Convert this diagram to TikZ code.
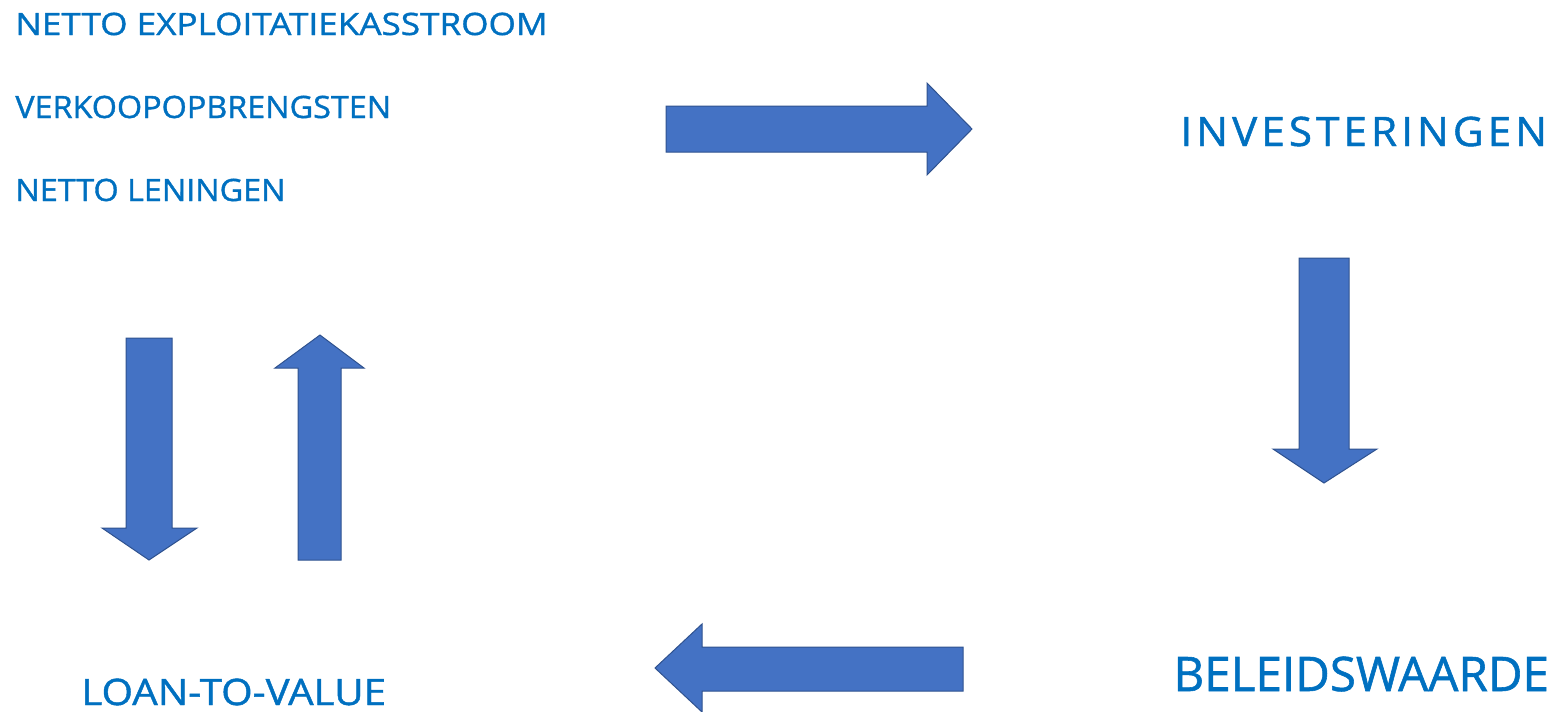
\documentclass[tikz,border=0pt]{standalone}
\usepackage{fontspec}
\setmainfont{Open Sans}[FakeBold=1.2]
\definecolor{txtblue}{HTML}{0070C0}
\definecolor{arrfill}{HTML}{4472C4}
\definecolor{arrline}{HTML}{2F528F}
\tikzset{
  lbl/.style={inner sep=0pt, anchor=base west, text=txtblue},
  blockarrow/.style={fill=arrfill, draw=arrline, line width=0.5pt, line join=miter}
}
\begin{document}
\begin{tikzpicture}[x=0.5pt,y=-0.5pt]
\useasboundingbox (0,0) rectangle (1559,712);
% texts
\node[lbl, font=\fontsize{15.4}{18}\selectfont\addfontfeatures{FakeStretch=1.14}] (t1) at (15,35) {NETTO EXPLOITATIEKASSTROOM};
\node[lbl, font=\fontsize{15.4}{18}\selectfont\addfontfeatures{FakeStretch=1.05}] (t2) at (15,118) {VERKOOPOPBRENGSTEN};
\node[lbl, font=\fontsize{15.4}{18}\selectfont\addfontfeatures{FakeStretch=1.05}] (t3) at (15,201) {NETTO LENINGEN};
\node[lbl, font=\fontsize{20.3}{24}\selectfont\addfontfeatures{LetterSpace=10,FakeStretch=1.04}] (inv) at (1180,146) {INVESTERINGEN};
\node[lbl, font=\fontsize{23.8}{28}\selectfont] (bel) at (1173,691) {BELEIDSWAARDE};
\node[lbl, font=\fontsize{18.2}{22}\selectfont\addfontfeatures{FakeStretch=1.11}] (ltv) at (81,705) {LOAN-TO-VALUE};
% right arrow (top)
\draw[blockarrow] (666,106) -- (927,106) -- (927,83) -- (972,129) -- (927,175) -- (927,152) -- (666,152) -- cycle;
% down arrow (right)
\draw[blockarrow] (1299,258) -- (1349,258) -- (1349,449) -- (1377,449) -- (1324,483) -- (1273,449) -- (1299,449) -- cycle;
% left arrow (bottom)
\draw[blockarrow] (963,647) -- (963,691) -- (702,691) -- (702,712) -- (655,668) -- (702,624) -- (702,647) -- cycle;
% down arrow (left)
\draw[blockarrow] (126,338) -- (172,338) -- (172,528) -- (197,528) -- (149,560) -- (102,528) -- (126,528) -- cycle;
% up arrow (left)
\draw[blockarrow] (298,560) -- (341,560) -- (341,368) -- (364,368) -- (320,335) -- (275,368) -- (298,368) -- cycle;
\end{tikzpicture}
\end{document}
